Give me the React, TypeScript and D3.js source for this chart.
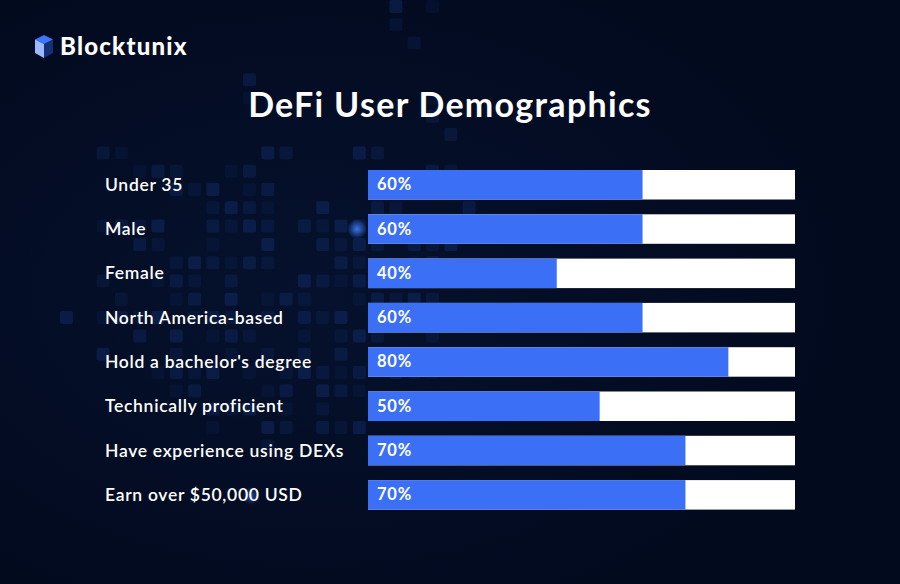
import React from "react";
import * as d3 from "d3";

const categories = [
  "Under 35",
  "Male",
  "Female",
  "North America-based",
  "Hold a bachelor's degree",
  "Technically proficient",
  "Have experience using DEXs",
  "Earn over $50,000 USD",
];
const values = [60, 60, 40, 60, 80, 50, 70, 70];
const title = "DeFi User Demographics";
const brand = "Blocktunix";

// decorative pixel mask (background only)
const mask = [
  "..................#.#.......",
  "..................#.........",
  "...................#........",
  "............................",
  "..........#.................",
  "..........#.........#.......",
  "....................#.......",
  ".....................#......",
  "..##.......##...##..........",
  "....###..##.........##......",
  "......###.##........###.....",
  "........####..#..##...#.....",
  "..####..####.#####..##......",
  "....##..#..#..####.###......",
  "......######...##..##.......",
  "..#..###.#...####...#.#.....",
  "...#..##.#.###..#####.......",
  "#.####.###.#.###.####.......",
  "....#.#.###..#.###..#.......",
  "..#...#..#.#.#.#..#.#.......",
  ".....####.#.#####.###.......",
  "......##...##.###...........",
  "........###.#.#..#.#........",
  "........#..##.###...........",
  "...........#................",
];

export default function App() {
  const W = 900;
  const H = 584;
  const trackX0 = 368;
  const trackX1 = 795;
  const x = d3.scaleLinear().domain([-4, 96]).range([trackX0, 797]);
  const y = d3
    .scaleBand<string>()
    .domain(categories)
    .range([170, 170 + 44.3 * 7 + 29.5])
    .paddingInner((44.3 - 29.5) / 44.3)
    .paddingOuter(0);
  const bh = y.bandwidth();

  const pitch = 18.3;
  const gx0 = 60;
  const gy0 = 0;
  const cells: { cx: number; cy: number; k: number }[] = [];
  mask.forEach((row, r) =>
    row.split("").forEach((c, i) => {
      if (c === "#") cells.push({ cx: gx0 + i * pitch, cy: gy0 + r * pitch, k: (r * 7 + i * 3) % 5 });
    })
  );

  const font = "Lato, 'Noto Sans', sans-serif";

  return (
    <svg width={W} height={H} style={{ position: "absolute", left: 0, top: 0 }}>
      <defs>
        <radialGradient id="bgGlow" cx="0.35" cy="0.5" r="0.6">
          <stop offset="0" stopColor="#0a1a40" />
          <stop offset="1" stopColor="#020a1e" />
        </radialGradient>
        <radialGradient id="spot" cx="0.5" cy="0.5" r="0.5">
          <stop offset="0" stopColor="#3f7bff" stopOpacity={0.9} />
          <stop offset="1" stopColor="#3f7bff" stopOpacity={0} />
        </radialGradient>
      </defs>
      <rect width={W} height={H} fill="#020a1e" />
      <rect width={W} height={H} fill="url(#bgGlow)" opacity={0.45} />
      <g>
        {cells.map((c, i) => (
          <rect
            key={i}
            x={c.cx}
            y={c.cy}
            width={13}
            height={13}
            rx={2}
            fill="#1a3a8a"
            opacity={0.12 + c.k * 0.05}
          />
        ))}
        <circle cx={357} cy={229} r={10} fill="url(#spot)" />
        <circle cx={251} cy={496} r={9} fill="url(#spot)" opacity={0.6} />
      </g>

      {/* logo */}
      <g transform="translate(35,35)">
        <polygon points="9,0 18,4.5 9,9 0,4.5" fill="#3d74f8" />
        <polygon points="0,4.5 9,9 9,23 0,18" fill="#9bb9ff" />
        <polygon points="9,9 18,4.5 18,18 9,23" fill="#2a55d0" opacity={0.5} />
      </g>
      <text x={60} y={55} fill="#ffffff" fontFamily={font} fontWeight={900} fontSize={24} letterSpacing={1.2}>
        {brand}
      </text>

      <text
        x={450}
        y={117}
        textAnchor="middle"
        fill="#ffffff"
        fontFamily={font}
        fontWeight={700}
        fontSize={34}
        letterSpacing={1.3}
      >
        {title}
      </text>

      {categories.map((c, i) => {
        const yy = y(c)!;
        return (
          <g key={c}>
            <text
              x={105}
              y={yy + bh / 2 + 6}
              fill="#ffffff"
              fontFamily={font}
              fontWeight={600}
              fontSize={17.5}
              letterSpacing={0.7}
            >
              {c}
            </text>
            <rect x={trackX0} y={yy} width={trackX1 - trackX0} height={bh} fill="#ffffff" />
            <rect x={trackX0} y={yy} width={x(values[i]) - trackX0} height={bh} fill="#3b70f6" />
            <text
              x={377}
              y={yy + bh / 2 + 5.5}
              fill="#ffffff"
              fontFamily={font}
              fontWeight={700}
              fontSize={16.5}
              letterSpacing={0.8}
            >
              {values[i]}%
            </text>
          </g>
        );
      })}
    </svg>
  );
}
